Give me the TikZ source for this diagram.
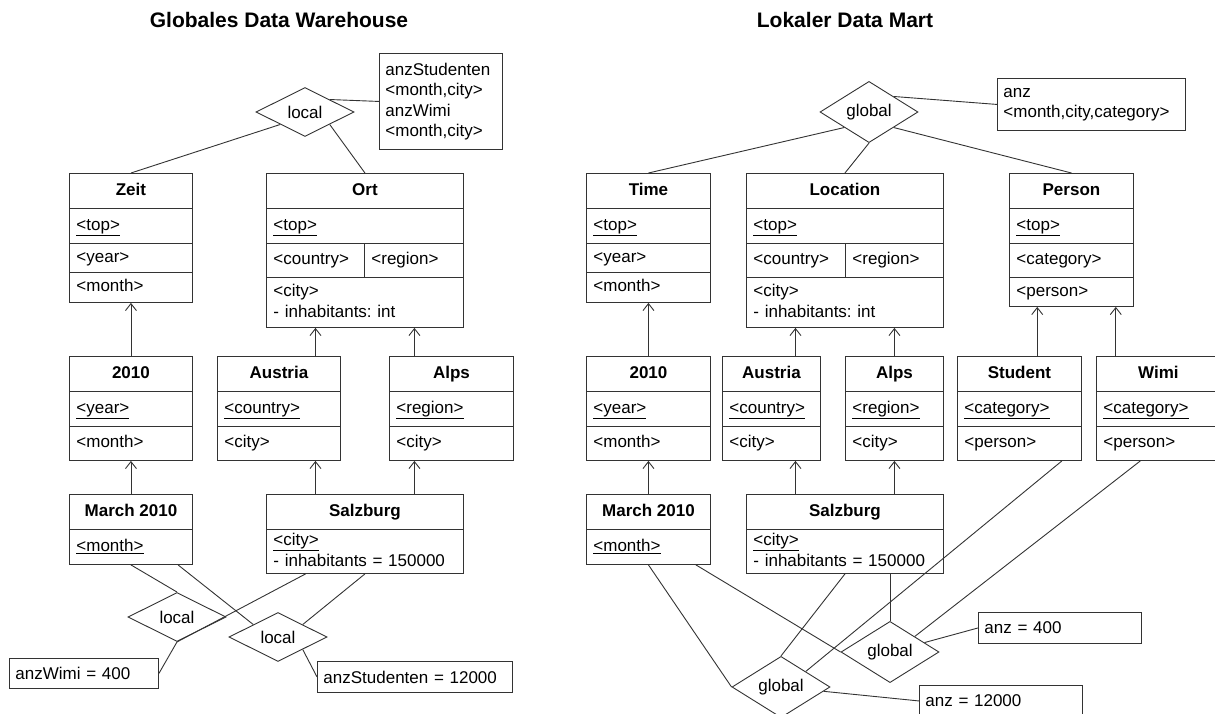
\documentclass[tikz,border=0pt]{standalone}
\usepackage{fontspec}
\setmainfont{Liberation Sans}
\usetikzlibrary{shapes.geometric,calc,arrows.meta}

\tikzset{
  hd/.style={draw, anchor=north west, font=\bfseries, inner sep=0pt, minimum height=35, text height=12.5pt, text depth=3.6pt},
  rw/.style={draw, anchor=north west, align=left, inner xsep=7pt, inner ysep=0pt, text height=12.5pt, text depth=3.6pt},
  two/.style={text depth=24.1pt},
  val/.style={draw, anchor=north west, align=left, inner xsep=6pt, inner ysep=0pt},
  rel/.style={draw, diamond, inner sep=0pt, minimum width=98, minimum height=49},
  arr/.style={-{Straight Barb[length=7pt,width=11pt]}},
  ttl/.style={font=\fontsize{21}{25}\selectfont\bfseries},
}

\begin{document}
\fontsize{17}{20.5}\selectfont\frenchspacing
\begin{tikzpicture}[x=1pt,y=-1pt,line width=0.9pt,draw=black!80]
	\path[use as bounding box,clip] (0,0) rectangle (1215,714);

	% Globales Data Warehouse
	\node[ttl] (t1) at (279,20) {Globales Data Warehouse};
	\node[rel] (loc) at (305,112) {local};
	\node[val, text width=111, minimum height=96] (aggr1) at (379,53) {anzStudenten\\<month,city>\\anzWimi\\<month,city>};

	\node[hd, minimum width=123] (zeit) at (69,173) {Zeit};
	\node[rw, text width=109, minimum height=35] (zeit1) at (69,208) {\underline{<top>}};
	\node[rw, text width=109, minimum height=29] (zeit2) at (69,243) {<year>};
	\node[rw, text width=109, minimum height=30] (zeit3) at (69,272) {<month>};

	\node[hd, minimum width=197] (ort) at (266,173) {Ort};
	\node[rw, text width=183, minimum height=35] (ort1) at (266,208) {\underline{<top>}};
	\node[rw, text width=84, minimum height=34] (ort2) at (266,243) {<country>};
	\node[rw, text width=85, minimum height=34] (ort3) at (364,243) {<region>};
	\node[rw, two, text width=183, minimum height=50] (ort4) at (266,277) {<city>\\- inhabitants: int};

	\node[hd, minimum width=123] (y2010) at (69,356) {2010};
	\node[rw, text width=109, minimum height=35] (y2010a) at (69,391) {\underline{<year>}};
	\node[rw, text width=109, minimum height=34] (y2010b) at (69,426) {<month>};

	\node[hd, minimum width=123] (austria) at (217,356) {Austria};
	\node[rw, text width=109, minimum height=35] (austriaa) at (217,391) {\underline{<country>}};
	\node[rw, text width=109, minimum height=34] (austriab) at (217,426) {<city>};

	\node[hd, minimum width=124] (alps) at (389,356) {Alps};
	\node[rw, text width=110, minimum height=35] (alpsa) at (389,391) {\underline{<region>}};
	\node[rw, text width=110, minimum height=34] (alpsb) at (389,426) {<city>};

	\node[hd, minimum width=123] (march) at (69,494) {March 2010};
	\node[rw, text width=109, minimum height=35] (marcha) at (69,529) {\underline{<month>}};

	\node[hd, minimum width=197] (salz) at (266,494) {Salzburg};
	\node[rw, two, text width=183, minimum height=44] (salza) at (266,529) {\underline{<city>}\\- inhabitants = 150000};

	\node[rel] (locL) at (177,617) {local};
	\node[rel] (locR) at (278,637) {local};
	\node[val, text width=137, minimum height=30] (wimiv) at (9,658) {anzWimi = 400};
	\node[val, text width=183, minimum height=31] (studv) at (317,661) {anzStudenten = 12000};

	\draw (loc.south west) -- (zeit.north);
	\draw (loc.south east) -- (ort.north);
	\draw (loc.north east) -- (aggr1.west);

	\coordinate (o1) at ($(ort4.south west)!.25!(ort4.south east)$);
	\coordinate (o2) at ($(ort4.south west)!.75!(ort4.south east)$);
	\draw[arr] (y2010.north) -- (zeit3.south);
	\draw[arr] (march.north) -- (y2010b.south);
	\draw[arr] (austria.north -| o1) -- (o1);
	\draw[arr] (alps.north -| o2) -- (o2);
	\draw[arr] (salz.north -| o1) -- (austriab.south -| o1);
	\draw[arr] (salz.north -| o2) -- (alpsb.south -| o2);

	\coordinate (m1) at ($(marcha.south west)!.88!(marcha.south east)$);
	\coordinate (s1) at ($(salza.south west)!.2!(salza.south east)$);
	\draw (marcha.south) -- (locL.north);
	\draw (m1) -- (locR.north west);
	\draw (s1) -- (locL.south);
	\draw (salza.south) -- (locR.north east);
	\draw (locL.south) -- (wimiv.east);
	\draw (locR.south east) -- (studv.west);

	% Lokaler Data Mart
	\node[ttl] (t2) at (845,20) {Lokaler Data Mart};
	\node[rel] (glob) at (869,112) {global};
	\node[val, text width=176, minimum height=52] (aggr2) at (997,78) {anz\\<month,city,category>};

	\node[hd, minimum width=124] (time) at (586,173) {Time};
	\node[rw, text width=110, minimum height=35] (time1) at (586,208) {\underline{<top>}};
	\node[rw, text width=110, minimum height=29] (time2) at (586,243) {<year>};
	\node[rw, text width=110, minimum height=30] (time3) at (586,272) {<month>};

	\node[hd, minimum width=197] (locn) at (746,173) {Location};
	\node[rw, text width=183, minimum height=35] (locn1) at (746,208) {\underline{<top>}};
	\node[rw, text width=85, minimum height=34] (locn2) at (746,243) {<country>};
	\node[rw, text width=84, minimum height=34] (locn3) at (845,243) {<region>};
	\node[rw, two, text width=183, minimum height=50] (locn4) at (746,277) {<city>\\- inhabitants: int};

	\node[hd, minimum width=124] (pers) at (1009,173) {Person};
	\node[rw, text width=110, minimum height=35] (pers1) at (1009,208) {\underline{<top>}};
	\node[rw, text width=110, minimum height=34] (pers2) at (1009,243) {<category>};
	\node[rw, text width=110, minimum height=29] (pers3) at (1009,277) {<person>};

	\node[hd, minimum width=124] (r2010) at (586,356) {2010};
	\node[rw, text width=110, minimum height=35] (r2010a) at (586,391) {\underline{<year>}};
	\node[rw, text width=110, minimum height=34] (r2010b) at (586,426) {<month>};

	\node[hd, minimum width=98] (raus) at (722,356) {Austria};
	\node[rw, text width=84, minimum height=35] (rausa) at (722,391) {\underline{<country>}};
	\node[rw, text width=84, minimum height=34] (rausb) at (722,426) {<city>};

	\node[hd, minimum width=98] (ralps) at (845,356) {Alps};
	\node[rw, text width=84, minimum height=35] (ralpsa) at (845,391) {\underline{<region>}};
	\node[rw, text width=84, minimum height=34] (ralpsb) at (845,426) {<city>};

	\node[hd, minimum width=124] (stud) at (957,356) {Student};
	\node[rw, text width=110, minimum height=35] (studa) at (957,391) {\underline{<category>}};
	\node[rw, text width=110, minimum height=34] (studb) at (957,426) {<person>};

	\node[hd, minimum width=124] (wimi) at (1096,356) {Wimi};
	\node[rw, text width=110, minimum height=35] (wimia) at (1096,391) {\underline{<category>}};
	\node[rw, text width=110, minimum height=34] (wimib) at (1096,426) {<person>};

	\node[hd, minimum width=124] (rmarch) at (586,494) {March 2010};
	\node[rw, text width=110, minimum height=35] (rmarcha) at (586,529) {\underline{<month>}};

	\node[hd, minimum width=197] (rsalz) at (746,494) {Salzburg};
	\node[rw, two, text width=183, minimum height=44] (rsalza) at (746,529) {\underline{<city>}\\- inhabitants = 150000};

	\node[rel] (gA) at (890,652) {global};
	\node[rel] (gB) at (781,687) {global};
	\node[val, text width=151, minimum height=31] (anz400) at (978,612) {anz = 400};
	\node[val, text width=151, minimum height=31] (anz12) at (919,685) {anz = 12000};

	\draw (glob.south west) -- (time.north);
	\draw (glob.south) -- (locn.north);
	\draw (glob.south east) -- (pers.north);
	\draw (glob.north east) -- (aggr2.west);

	\coordinate (l1) at ($(locn4.south west)!.25!(locn4.south east)$);
	\coordinate (l2) at ($(locn4.south west)!.75!(locn4.south east)$);
	\coordinate (p1) at ($(pers3.south west)!.226!(pers3.south east)$);
	\coordinate (p2) at ($(pers3.south west)!.855!(pers3.south east)$);
	\draw[arr] (r2010.north) -- (time3.south);
	\draw[arr] (rmarch.north) -- (r2010b.south);
	\draw[arr] (raus.north -| l1) -- (l1);
	\draw[arr] (ralps.north -| l2) -- (l2);
	\draw[arr] (rsalz.north -| l1) -- (rausb.south -| l1);
	\draw[arr] (rsalz.north -| l2) -- (ralpsb.south -| l2);
	\draw[arr] (stud.north -| p1) -- (p1);
	\draw[arr] (wimi.north -| p2) -- (p2);

	\coordinate (m2) at ($(rmarcha.south west)!.88!(rmarcha.south east)$);
	\coordinate (st1) at ($(studb.south west)!.84!(studb.south east)$);
	\coordinate (wi1) at ($(wimib.south west)!.355!(wimib.south east)$);
	\draw (rmarcha.south) -- (gB.west);
	\draw (m2) -- (gA.west);
	\draw (rsalza.south) -- (gB.north);
	\draw (gA.north) -- (gA.north |- rsalza.south);
	\draw (st1) -- (gB.north east);
	\draw (wi1) -- (gA.north east);
	\draw (gA) -- (anz400.west);
	\draw (gB) -- (anz12.west);
\end{tikzpicture}
\end{document}
